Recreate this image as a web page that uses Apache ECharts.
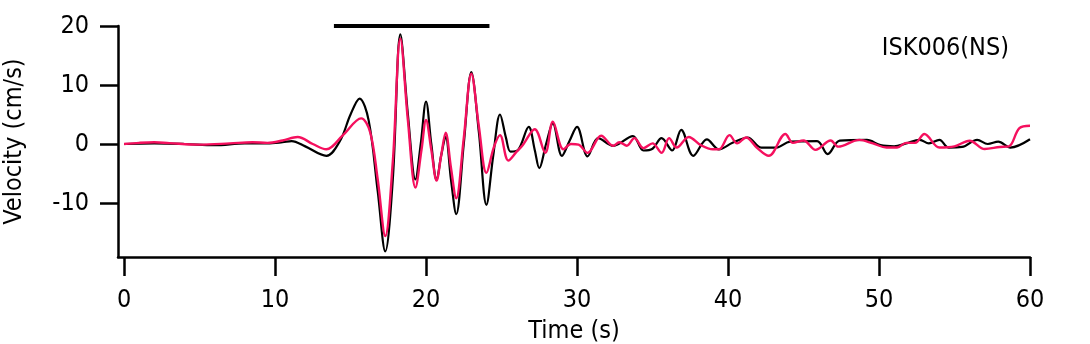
<!DOCTYPE html>
<html>
<head>
<meta charset="utf-8">
<script src="https://cdn.jsdelivr.net/npm/echarts@6/dist/echarts.min.js"></script>
<style>
  html, body { margin: 0; padding: 0; background: #fff; }
  #chart { width: 1090px; height: 344px; }
</style>
</head>
<body>
<div id="chart"></div>
<script>
// velocity waveforms, [time (s), velocity (cm/s)]
const blackTrace = [
  [0, 0], [2, 0.1], [4, 0.0], [6, -0.2], [8, 0.1], [9.5, 0.1], [10.5, 0.3], [11.1, 0.5],
  [12, -0.4], [13.4, -2.0], [14.3, 0.5], [15.0, 5.0], [15.6, 7.7], [16.2, 4.0], [16.8, -8],
  [17.3, -18.2], [17.8, -6], [18.3, 18.6], [18.8, 5], [19.3, -6.0], [19.65, 0], [20.0, 7.2],
  [20.35, 0], [20.7, -6.1], [21.0, -2], [21.3, 1.2], [21.65, -6], [22.0, -11.9], [22.5, 0],
  [23.0, 12.2], [23.5, 2], [24.0, -10.3], [24.45, -2], [24.9, 5.0], [25.3, 1], [25.6, -1.3],
  [26.1, -1.0], [26.8, 2.9], [27.2, -1], [27.5, -4.1], [27.95, 0], [28.4, 3.5], [29.0, -2.0],
  [29.5, 0.5], [30.0, 2.9], [30.7, -2.1], [31.4, 1.0], [32.4, -0.3], [33.7, 1.35], [34.4, -1.1],
  [35.0, -0.8], [35.6, 1.0], [36.3, -1.1], [36.9, 2.4], [37.7, -2.0], [38.6, 0.8], [39.4, -0.9],
  [40.3, 0.2], [41.3, 1.1], [42.2, -0.6], [43.2, -0.6], [44.1, 0.4], [45.9, 0.5], [46.6, -1.7],
  [47.4, 0.56], [49.2, 0.7], [50.1, -0.2], [51.0, -0.4], [51.8, 0.1], [52.7, 0.7], [53.3, 0.1],
  [54.0, 0.7], [54.6, -0.6], [55.5, -0.5], [56.5, 0.7], [57.2, 0], [57.9, 0.4], [58.7, -0.6],
  [60.0, 0.8]
];

const pinkTrace = [
  [0, 0], [1, 0.2], [2, 0.3], [3, 0.15], [5, -0.1], [7, 0.1], [8.5, 0.3], [9.5, 0.2],
  [10.5, 0.6], [11.5, 1.2], [12.5, 0], [13.4, -0.9], [14.5, 1.5], [15.7, 4.35], [16.3, 2],
  [16.8, -6], [17.3, -15.6], [17.8, -3], [18.3, 17.9], [18.8, 4], [19.3, -7.4], [19.7, -1],
  [20.0, 4.07], [20.35, -1], [20.7, -6.2], [21.0, -2], [21.3, 1.9], [21.65, -4], [22.0, -9.2],
  [22.5, 1], [23.0, 11.9], [23.5, 3], [24.0, -4.9], [24.5, -0.5], [24.9, 1.5], [25.45, -2.8],
  [26.0, -1.3], [26.4, -0.2], [27.2, 2.5], [27.9, -1.5], [28.4, 3.8], [29.1, -0.9], [29.6, 0],
  [30.1, -0.1], [30.7, -1.5], [31.6, 1.4], [32.4, -0.3], [32.8, 0.3], [33.3, -0.3], [33.8, 1.0],
  [34.4, -0.7], [35.0, 0.1], [35.6, -1.5], [36.1, 1.0], [36.6, -0.6], [37.4, 1.2], [38.2, -0.2],
  [39.0, -0.9], [39.4, -0.9], [40.1, 1.5], [40.6, 0.1], [41.2, 1.1], [41.9, -0.6], [42.7, -2.0],
  [43.8, 1.7], [44.3, 0.2], [45.0, 0.6], [45.8, -1.0], [46.8, 0.6], [47.3, -0.45], [48.7, 0.7],
  [49.6, 0.1], [50.5, -0.6], [51.2, -0.6], [51.8, 0.2], [52.4, 0.2], [53.0, 1.7], [54.0, -0.6],
  [55.0, -0.4], [56.0, 0.56], [57.0, -0.85], [58.0, -0.5], [58.6, -0.4], [59.3, 2.7], [60.0, 3.1]
];

// time window marker at the top
const windowBar = [[13.9, 20], [24.2, 20]];

const xTicks = [0, 10, 20, 30, 40, 50, 60];
const yTicks = [-10, 0, 10, 20];

const stationLabel = 'ISK006(NS)';

const font = '"Liberation Sans Narrow", "DejaVu Sans Condensed", sans-serif';

const chart = echarts.init(document.getElementById('chart'), null, { renderer: 'canvas' });

chart.setOption({
  animation: false,
  backgroundColor: '#fff',
  textStyle: { fontFamily: font },
  title: {
    text: stationLabel,
    right: 76,
    top: 31,
    textStyle: { fontFamily: font, fontSize: 25, fontWeight: 'normal', color: '#000' }
  },
  grid: { left: 118, right: 60, top: 26, bottom: 87, outerBoundsMode: 'none', containLabel: false },
  xAxis: {
    type: 'value',
    min: -0.4,
    max: 60,
    name: 'Time (s)',
    nameLocation: 'middle',
    nameGap: 62,
    nameTextStyle: { fontFamily: font, fontSize: 25, color: '#000' },
    axisLine: { onZero: false, lineStyle: { color: '#000', width: 2.5 } },
    axisTick: { customValues: xTicks, length: 19, lineStyle: { color: '#000', width: 2.5 } },
    axisLabel: { customValues: xTicks, margin: 31, fontFamily: font, fontSize: 25, color: '#000' },
    splitLine: { show: false }
  },
  yAxis: {
    type: 'value',
    min: -19.15,
    max: 20,
    name: 'Velocity (cm/s)',
    nameLocation: 'middle',
    nameGap: 91,
    nameRotate: 90,
    nameTextStyle: { fontFamily: font, fontSize: 25, color: '#000' },
    axisLine: { show: true, onZero: false, lineStyle: { color: '#000', width: 2.5 } },
    axisTick: { show: true, customValues: yTicks, length: 18, lineStyle: { color: '#000', width: 2.5 } },
    axisLabel: { customValues: yTicks, margin: 29, fontFamily: font, fontSize: 25, color: '#000' },
    splitLine: { show: false }
  },
  series: [
    {
      type: 'line',
      data: blackTrace,
      smooth: 0.35,
      showSymbol: false,
      lineStyle: { color: '#000', width: 2.2 },
      z: 2
    },
    {
      type: 'line',
      data: pinkTrace,
      smooth: 0.35,
      showSymbol: false,
      lineStyle: { color: '#f5105e', width: 2.4 },
      z: 3
    },
    {
      type: 'line',
      data: windowBar,
      showSymbol: false,
      lineStyle: { color: '#000', width: 4, cap: 'butt' },
      z: 4
    }
  ]
});
</script>
</body>
</html>
